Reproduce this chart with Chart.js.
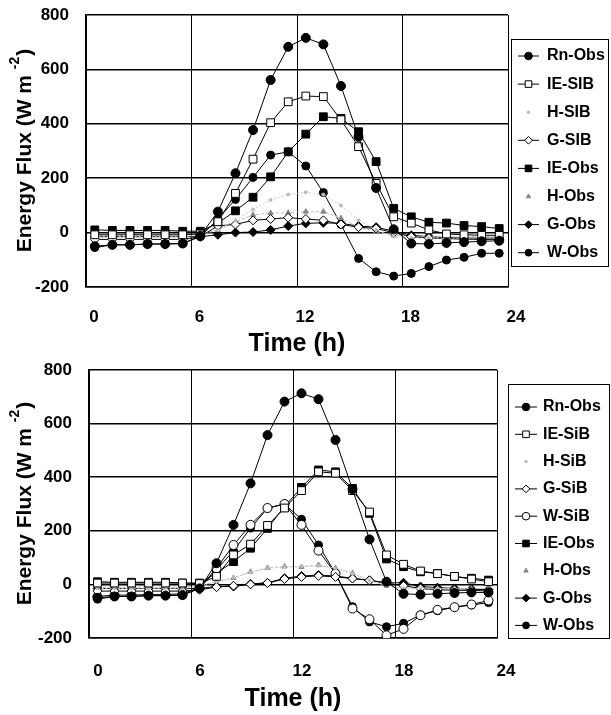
<!DOCTYPE html>
<html>
<head>
<meta charset="utf-8">
<script src="https://cdn.jsdelivr.net/npm/chart.js@4.4.1/dist/chart.umd.min.js"></script>
<style>
  body { margin: 0; background: #fff; }
  #wrap { position: relative; width: 611px; height: 715px; }
  .box { position: absolute; left: 0; width: 611px; }
</style>
</head>
<body>
<div id="wrap">
  <div class="box" style="top:0;height:357px"><canvas id="topChart" width="611" height="357"></canvas></div>
  <div class="box" style="top:357px;height:358px"><canvas id="bottomChart" width="611" height="358"></canvas></div>
</div>
<script>
const FONT = "'Liberation Sans', Arial, sans-serif";
const TICK_SIZE = 17;

// half-hour centred values, W m-2
const hours = [0.5, 1.5, 2.5, 3.5, 4.5, 5.5, 6.5, 7.5, 8.5, 9.5, 10.5, 11.5,
               12.5, 13.5, 14.5, 15.5, 16.5, 17.5, 18.5, 19.5, 20.5, 21.5, 22.5, 23.5];
const xTicks = [0, 6, 12, 18, 24];
const yTicks = [-200, 0, 200, 400, 600, 800];

// top panel (SiB default)
const topNames = ['Rn-Obs', 'IE-SIB', 'H-SIB', 'G-SIB', 'IE-Obs', 'H-Obs', 'G-Obs', 'W-Obs'];
const rnObs1 = [-50, -45, -45, -42, -42, -40, -12, 77, 218, 377, 561, 683, 716, 692, 539, 352, 164, 12, -40, -42, -38, -35, -32, -30];
const ieSib1 = [-8, -8, -8, -8, -8, -8, -5, 40, 144, 270, 404, 481, 502, 500, 415, 316, 181, 58, 35, 10, -5, -8, -10, -10];
const hSib1 = [-15, -15, -15, -15, -15, -15, -10, 10, 45, 85, 120, 140, 148, 140, 100, 45, 10, -15, -20, -20, -20, -20, -20, -20];
const gSib1 = [-25, -25, -25, -25, -25, -25, -15, 25, 30, 45, 50, 55, 50, 45, 30, 20, 15, 0, -15, -20, -22, -24, -25, -25];
const ieObs1 = [10, 8, 8, 8, 8, 5, 5, 35, 80, 130, 205, 297, 362, 426, 420, 371, 261, 89, 58, 38, 35, 26, 22, 15];
const hObs1 = [-10, -10, -10, -10, -10, -10, -5, 10, 40, 65, 72, 73, 77, 77, 53, 20, 5, -10, -15, -15, -15, -15, -15, -15];
const gObs1 = [-15, -15, -15, -15, -15, -15, -15, -8, 0, 2, 10, 24, 34, 36, 34, 24, 20, 5, -10, -15, -18, -20, -20, -20];
const wObs1 = [-55, -45, -45, -42, -42, -40, -15, 50, 122, 203, 285, 297, 245, 147, 30, -95, -144, -160, -150, -125, -101, -91, -76, -76];

// bottom panel (SiB tuned)
const bottomNames = ['Rn-Obs', 'IE-SiB', 'H-SiB', 'G-SiB', 'W-SiB', 'IE-Obs', 'H-Obs', 'G-Obs', 'W-Obs'];
const rnObs2 = [-50, -45, -45, -42, -42, -40, -15, 79, 222, 377, 557, 682, 713, 691, 539, 355, 168, 10, -35, -38, -35, -32, -30, -30];
const ieSib2 = [5, 5, 5, 5, 5, 5, 3, 30, 110, 150, 220, 285, 350, 420, 415, 350, 270, 110, 75, 50, 40, 30, 20, 10];
const hSib2 = [-15, -15, -15, -15, -15, -15, -10, 10, 25, 45, 60, 65, 68, 70, 60, 40, 15, -5, -15, -15, -15, -15, -15, -15];
const gSib2 = [-25, -25, -25, -25, -25, -25, -20, -10, -5, 0, 5, 20, 28, 32, 28, 22, 15, 5, -5, -15, -20, -22, -22, -25];
const wSib2 = [-45, -40, -40, -38, -38, -35, -12, 60, 147, 222, 285, 300, 222, 126, 40, -90, -130, -190, -166, -115, -95, -85, -75, -60];
const ieObs2 = [10, 8, 8, 8, 8, 5, 5, 42, 85, 135, 209, 290, 362, 427, 420, 358, 265, 95, 66, 47, 41, 29, 23, 16];
const hObs2 = [-10, -10, -10, -10, -10, -10, -5, 10, 24, 47, 61, 67, 65, 72, 61, 42, 15, -5, -15, -15, -15, -15, -15, -15];
const gObs2 = [-15, -15, -15, -15, -15, -15, -15, -8, -8, 2, 6, 23, 31, 35, 31, 23, 15, 6, 6, -8, -12, -15, -18, -20];
const wObs2 = [-55, -45, -45, -42, -42, -40, -15, 55, 125, 210, 284, 300, 243, 147, 41, -83, -140, -158, -145, -114, -98, -85, -77, -68];

const styles = {
  rn:   { pointStyle: 'circle',  radius: 4.5, bg: '#000', line: '#000', dash: [] },
  ieS:  { pointStyle: 'rect',    radius: 5.5, bg: '#fff', line: '#000', dash: [] },
  hS:   { pointStyle: 'circle',  radius: 1.5, bg: '#bbb', pt: '#bbb', line: '#c8c8c8', dash: [2, 2], noLegendLine: true },
  gS:   { pointStyle: 'rectRot', radius: 4.5, bg: '#fff', line: '#000', dash: [] },
  wS:   { pointStyle: 'circle',  radius: 4.5, bg: '#fff', line: '#000', dash: [] },
  ieO:  { pointStyle: 'rect',    radius: 5.5, bg: '#000', line: '#000', dash: [] },
  hO:   { pointStyle: 'triangle', radius: 3, bg: '#888', pt: '#888', line: '#bbb', dash: [3, 2], noLegendLine: true },
  gO:   { pointStyle: 'rectRot', radius: 4.5, bg: '#000', line: '#000', dash: [] },
  wO:   { pointStyle: 'circle',  radius: 4,   bg: '#000', line: '#000', dash: [] }
};

function buildSets(names, valueLists, styleKeys) {
  return names.map((name, i) => {
    const st = styles[styleKeys[i]];
    return {
      label: name,
      data: hours.map((h, k) => ({ x: h, y: valueLists[i][k] })),
      borderColor: st.line,
      borderWidth: 1,
      borderDash: st.dash,
      pointStyle: st.pointStyle,
      pointRadius: st.radius,
      pointBackgroundColor: st.bg,
      pointBorderColor: st.pt || '#000',
      pointBorderWidth: 1,
      tension: 0,
      _style: st
    };
  });
}

function boxLegendPlugin(geo) {
  return {
    id: 'boxLegend',
    afterDraw(chart) {
      const ctx = chart.ctx;
      ctx.save();
      // y-axis title with superscript
      const ca = chart.chartArea;
      ctx.translate(geo.titleX, (ca.top + ca.bottom) / 2);
      ctx.rotate(-Math.PI / 2);
      const big = 'bold 21px ' + FONT, small = 'bold 14px ' + FONT;
      ctx.font = big;
      const t1 = 'Energy Flux (W m ', t3 = ')';
      const w1 = ctx.measureText(t1).width, w3 = ctx.measureText(t3).width;
      ctx.font = small;
      const w2 = ctx.measureText('-2').width;
      let x0 = -(w1 + w2 + w3) / 2;
      ctx.fillStyle = '#000';
      ctx.textBaseline = 'middle';
      ctx.textAlign = 'left';
      ctx.font = big;
      ctx.fillText(t1, x0, 0);
      ctx.font = small;
      ctx.fillText('-2', x0 + w1, -10);
      ctx.font = big;
      ctx.fillText(t3, x0 + w1 + w2 + 1, 0);
      ctx.restore();

      // legend box
      ctx.save();
      ctx.strokeStyle = '#000';
      ctx.lineWidth = 1;
      ctx.strokeRect(geo.boxX + 0.5, geo.boxY + 0.5, geo.boxW, geo.boxH);
      ctx.font = 'bold 16px ' + FONT;
      ctx.textBaseline = 'middle';
      chart.data.datasets.forEach((ds, i) => {
        const st = ds._style;
        const y = geo.rowY + i * geo.rowGap;
        if (!st.noLegendLine) {
          ctx.strokeStyle = st.line;
          ctx.setLineDash([]);
          ctx.beginPath();
          ctx.moveTo(geo.lineX0, y);
          ctx.lineTo(geo.lineX1, y);
          ctx.stroke();
        }
        ctx.fillStyle = st.bg;
        ctx.strokeStyle = st.pt || '#000';
        Chart.helpers.drawPoint(ctx, { pointStyle: st.pointStyle, radius: st.radius * 0.85, borderWidth: 1, rotation: 0 },
          (geo.lineX0 + geo.lineX1) / 2, y);
        ctx.fillStyle = '#000';
        ctx.fillText(ds.label, geo.textX, y);
      });
      ctx.restore();
    }
  };
}

function makeChart(id, sets, geo) {
  return new Chart(document.getElementById(id), {
    type: 'line',
    data: { datasets: sets },
    options: {
      responsive: false,
      animation: false,
      layout: { padding: { left: 0, right: geo.padRight, top: geo.areaTop, bottom: 0 } },
      plugins: { legend: { display: false }, tooltip: { enabled: false } },
      scales: {
        x: {
          type: 'linear', min: 0, max: 24,
          afterBuildTicks: (s) => { s.ticks = xTicks.map(v => ({ value: v })); },
          afterFit: (s) => { s.height = geo.xHeight; },
          grid: { color: '#000', lineWidth: 1, drawTicks: false },
          border: { color: '#000', width: 1.5 },
          ticks: { color: '#000', font: { family: FONT, size: TICK_SIZE, weight: 'bold' }, padding: geo.xTickPad, labelOffset: geo.labelOffset, maxRotation: 0 },
          title: { display: true, text: 'Time (h)', color: '#000', font: { family: FONT, size: 25, weight: 'bold', lineHeight: 1 }, padding: { top: 0, bottom: geo.titlePad } }
        },
        y: {
          min: -200, max: 800,
          afterBuildTicks: (s) => { s.ticks = yTicks.map(v => ({ value: v })); },
          // fixed width; drop the label padding so the plot top follows layout padding
          afterFit: (s) => { s.width = geo.yWidth; s.paddingTop = 0; s.paddingBottom = 0; },
          grid: { color: '#000', lineWidth: 1.5, drawTicks: false },
          border: { color: '#000', width: 1.5 },
          ticks: { color: '#000', font: { family: FONT, size: TICK_SIZE, weight: 'bold' }, padding: 17 }
        }
      }
    },
    plugins: [boxLegendPlugin(geo)]
  });
}

makeChart('topChart',
  buildSets(topNames, [rnObs1, ieSib1, hSib1, gSib1, ieObs1, hObs1, gObs1, wObs1],
    ['rn', 'ieS', 'hS', 'gS', 'ieO', 'hO', 'gO', 'wO']),
  { padRight: 103, areaTop: 15, xHeight: 70, yWidth: 86, xTickPad: 20, labelOffset: 8, titlePad: 0,
    titleX: 25, boxX: 511, boxY: 39, boxW: 97, boxH: 227, rowY: 56, rowGap: 28.1,
    lineX0: 518, lineX1: 539, textX: 547 });

makeChart('bottomChart',
  buildSets(bottomNames, [rnObs2, ieSib2, hSib2, gSib2, wSib2, ieObs2, hObs2, gObs2, wObs2],
    ['rn', 'ieS', 'hS', 'gS', 'wS', 'ieO', 'hO', 'gO', 'wO']),
  { padRight: 114, areaTop: 13, xHeight: 77, yWidth: 89, xTickPad: 23, labelOffset: 9, titlePad: 3,
    titleX: 25, boxX: 508, boxY: 27, boxW: 101, boxH: 254, rowY: 50, rowGap: 27.3,
    lineX0: 515, lineX1: 537, textX: 543 });
</script>
</body>
</html>
